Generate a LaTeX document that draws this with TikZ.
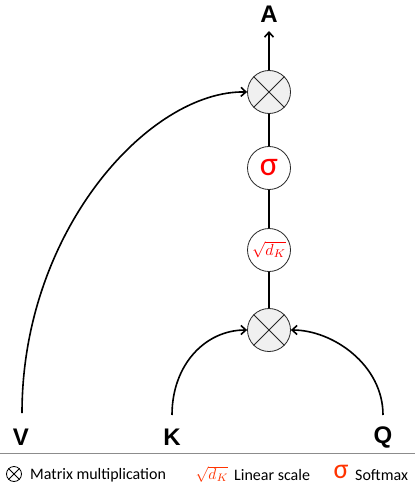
\documentclass[tikz,border=0pt]{standalone}
\usepackage{fontspec}
\setmainfont{Carlito}
\newfontfamily\labfont{Liberation Sans}
\usetikzlibrary{arrows.meta}
\definecolor{sigred}{HTML}{FF0000}
\definecolor{legred}{HTML}{FF3300}
\tikzset{
  op/.style={circle, draw=black!85, line width=0.8pt, minimum size=43pt, inner sep=0pt},
  mult/.style={op, fill=black!6},
  io/.style={font=\labfont\bfseries\fontsize{24}{24}\selectfont, inner sep=0pt},
  conn/.style={line width=2.4pt},
  feed/.style={line width=1.6pt, -{Straight Barb[length=5pt,width=9pt,line width=1.6pt]}},
  legtext/.style={font=\fontsize{16}{16}\selectfont, anchor=west, inner sep=0pt},
}
\begin{document}
\begin{tikzpicture}[x=1pt,y=-1pt]
\useasboundingbox (0,0) rectangle (415,489);
% operation nodes
\node[mult] (m2) at (269,92) {};
\node[op] (sm) at (269,168) {\textcolor{sigred}{\fontsize{34}{34}\selectfont σ}};
\node[op] (sc) at (269,250) {\textcolor{sigred}{\scalebox{1.6}{$\sqrt{d_K}$}}};
\node[mult] (m1) at (269,330) {};
\draw[line width=0.8pt, black!85] (m2.north west) -- (m2.south east) (m2.north east) -- (m2.south west);
\draw[line width=0.8pt, black!85] (m1.north west) -- (m1.south east) (m1.north east) -- (m1.south west);
% io labels
\node[io] (A) at (269,14) {A};
\node[io] (V) at (21,437) {V};
\node[io] (K) at (172,437) {K};
\node[io] (Q) at (383,437) {Q};
\coordinate (Vs) at (22,413);
\coordinate (Ks) at (172,415);
\coordinate (Qs) at (383,415);
\coordinate (At) at (269,31);
% vertical chain
\draw[conn] (m1) -- (sc);
\draw[conn] (sc) -- (sm);
\draw[conn] (sm) -- (m2);
\draw[line width=2pt, -{Straight Barb[length=5pt,width=9pt,line width=1.6pt]}] (m2) -- (At);
% curved feeds
\draw[feed] (Vs) .. controls (22,230) and (150,90) .. (m2.west);
\draw[feed] (Ks) .. controls (172,365) and (205,330) .. (m1.west);
\draw[feed] (Qs) .. controls (383,365) and (333,330) .. (m1.east);
% separator
\draw[black!45, line width=0.8pt] (0,453) -- (415,453);
% legend
\node[circle, draw=black, line width=0.8pt, minimum size=15pt, inner sep=0pt] (lm) at (14,474) {};
\draw[line width=0.8pt] (lm.north west) -- (lm.south east) (lm.north east) -- (lm.south west);
\node[legtext] (lmt) at (30,475) {Matrix multiplication};
\node[inner sep=0pt] (lsc) at (212,474) {\textcolor{legred}{\scalebox{1.55}{$\sqrt{d_K}$}}};
\node[legtext] (lsct) at (234,475) {Linear scale};
\node[inner sep=0pt] (lsm) at (341,472) {\textcolor{legred}{\fontsize{28}{28}\selectfont σ}};
\node[legtext] (lsmt) at (355,475) {Softmax};
\end{tikzpicture}
\end{document}
